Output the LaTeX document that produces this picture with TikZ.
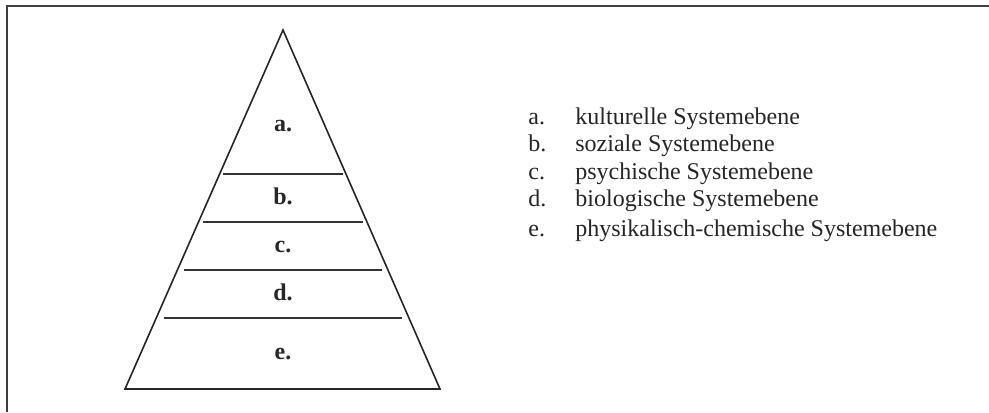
\documentclass[tikz,border=0pt]{standalone}
\usepackage{fontspec}
\setmainfont{Liberation Serif}
\begin{document}
\begin{tikzpicture}[x=0.5pt,y=-0.5pt,
  lvl/.style={font=\fontsize{12pt}{14pt}\selectfont\bfseries, anchor=base, inner sep=0pt, text=black!85},
  item/.style={font=\fontsize{12pt}{14pt}\selectfont, anchor=base west, inner sep=0pt, text=black!85}]
\useasboundingbox (0,0) rectangle (989,412);
\draw[line width=1pt, black!75] (7,412) -- (7,6) -- (989,6);
\coordinate (top) at (283,30);
\coordinate (bl) at (125,389);
\coordinate (br) at (440,389);
\draw[line width=0.8pt, black!85] (top) -- (bl) -- (br) -- cycle;
\draw[line width=0.8pt, black!80] (223,174) -- (343,174);
\draw[line width=0.8pt, black!80] (203,222) -- (363,222);
\draw[line width=0.8pt, black!80] (184,270) -- (382,270);
\draw[line width=0.8pt, black!80] (164,318) -- (402,318);
\node[lvl] (la) at (283,131) {a.};
\node[lvl] (lb) at (283,204) {b.};
\node[lvl] (lc) at (283,252) {c.};
\node[lvl] (ld) at (283,300) {d.};
\node[lvl] (le) at (283,359) {e.};
\node[item] (ka) at (528,124) {a.};
\node[item] (kb) at (528,151.5) {b.};
\node[item] (kc) at (528,179) {c.};
\node[item] (kd) at (528,206) {d.};
\node[item] (ke) at (528,236) {e.};
\node[item] (ta) at (575,124) {kulturelle Systemebene};
\node[item] (tb) at (575,151.5) {soziale Systemebene};
\node[item] (tc) at (575,179) {psychische Systemebene};
\node[item] (td) at (575,206) {biologische Systemebene};
\node[item] (te) at (575,236) {physikalisch-chemische Systemebene};
\end{tikzpicture}
\end{document}
